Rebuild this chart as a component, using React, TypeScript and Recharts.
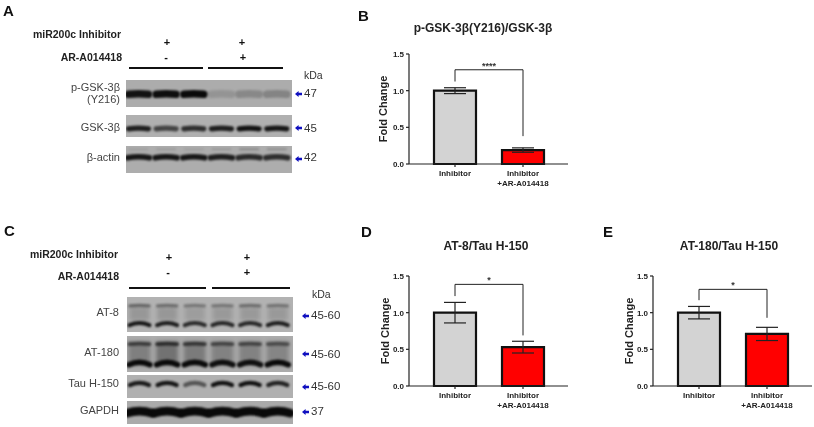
import React from "react";
import { BarChart, Bar, XAxis, YAxis, ErrorBar, Cell, ReferenceLine, ScatterChart, Scatter } from "recharts";

const FONT = '"Liberation Sans", Arial, sans-serif';

// bar panels
const groups = ["Inhibitor", "Inhibitor\n+AR-A014418"];
const yTicks = [0, 0.5, 1.0, 1.5];
const barColors = ["#d3d3d3", "#ff0000"];

const gskMeans = [1.0, 0.19];
const gskErrors = [0.04, 0.03];
const gskBracket = [1.285, 1.125, 0.38]; // top, left foot, right foot

const at8Means = [1.0, 0.53];
const at8Errors = [0.14, 0.08];
const at8Bracket = [1.386, 1.226, 0.69];

const at180Means = [1.0, 0.71];
const at180Errors = [0.085, 0.09];
const at180Bracket = [1.318, 1.17, 0.93];

// blot band strength per lane, 0 to 1
const pGskBand = [0.95, 0.98, 1, 0.14, 0.22, 0.25];
const gskBand = [0.88, 0.65, 0.78, 0.88, 0.95, 0.92];
const actinBand = [0.92, 0.92, 0.92, 0.88, 0.8, 0.78];
const actinFaint = [0.08, 0.1, 0.08, 0.12, 0.22, 0.2];
const at8Upper = [0.42, 0.38, 0.32, 0.32, 0.38, 0.34];
const at8Smear = [0.16, 0.16, 0.12, 0.14, 0.14, 0.14];
const at8Lower = [0.92, 0.88, 0.8, 0.82, 0.82, 0.88];
const at180Upper = [0.6, 0.7, 0.65, 0.55, 0.55, 0.5];
const at180Smear = [0.28, 0.36, 0.3, 0.26, 0.26, 0.24];
const at180Lower = [1, 1, 1, 0.96, 0.96, 1];
const tauBand = [0.9, 0.92, 0.55, 0.95, 0.95, 0.85];
const gapdhBand = [1, 1, 1, 1, 1, 1];

function Txt({ x, y, right, bold, size = 11, color = "#333", center, children }: any) {
  let tx = "translateY(-50%)";
  if (right) tx = "translate(-100%,-50%)";
  if (center) tx = "translate(-50%,-50%)";
  return (
    <div style={{ position: "absolute", left: x, top: y, transform: tx, whiteSpace: "nowrap", fontFamily: FONT, fontSize: size, fontWeight: bold ? 700 : 400, color, lineHeight: 1 }}>
      {children}
    </div>
  );
}

function GroupTick({ x, y, payload }: any) {
  const lines = String(payload.value).split("\n");
  return (
    <text x={x} y={y + 7} textAnchor="middle" fontFamily={FONT} fontSize={8} fontWeight={700} fill="#222">
      {lines.map((l: string, i: number) => (
        <tspan key={i} x={x} dy={i === 0 ? 0 : 9.5}>{l}</tspan>
      ))}
    </text>
  );
}

function FoldPanel({ left, top, means, errors, bracket, stars, labelOffset }: any) {
  const data = groups.map((g, i) => ({ group: g, mean: means[i], err: errors[i] }));
  const axisStroke = { stroke: "#222", strokeWidth: 1.2 };
  return (
    <div style={{ position: "absolute", left, top }}>
      <BarChart width={208} height={154} data={data} margin={{ top: 14, right: 0, bottom: 0, left: 9 }} barSize={42}>
        <XAxis dataKey="group" interval={0} height={30} padding={{ left: 12, right: 11 }} axisLine={axisStroke} tickLine={axisStroke} tickSize={3} tick={<GroupTick />} />
        <YAxis
          width={40}
          domain={[0, 1.5]}
          ticks={yTicks}
          tickFormatter={(v: number) => v.toFixed(1)}
          axisLine={axisStroke}
          tickLine={axisStroke}
          tickSize={3}
          tick={{ fontFamily: FONT, fontSize: 8, fontWeight: 700, fill: "#222" }}
          label={{ value: "Fold Change", angle: -90, position: "insideLeft", offset: labelOffset, style: { fontFamily: FONT, fontSize: 11, fontWeight: 700, fill: "#222", textAnchor: "middle" } }}
        />
        <Bar dataKey="mean" stroke="#111" strokeWidth={2.2} isAnimationActive={false}>
          {data.map((d, i) => <Cell key={d.group} fill={barColors[i]} />)}
          <ErrorBar dataKey="err" width={11} stroke="#222" strokeWidth={1.2} direction="y" isAnimationActive={false} />
        </Bar>
        <ReferenceLine
          segment={[{ x: groups[0], y: bracket[0] }, { x: groups[1], y: bracket[0] }]}
          stroke="#222"
          strokeWidth={1}
          label={{ value: stars, position: "top", offset: 1, style: { fontFamily: FONT, fontSize: 9, fontWeight: 700, fill: "#333" } }}
        />
        <ReferenceLine segment={[{ x: groups[0], y: bracket[0] }, { x: groups[0], y: bracket[1] }]} stroke="#222" strokeWidth={1} />
        <ReferenceLine segment={[{ x: groups[1], y: bracket[0] }, { x: groups[1], y: bracket[2] }]} stroke="#222" strokeWidth={1} />
      </BarChart>
    </div>
  );
}

function BandShape({ cx, cy, payload }: any) {
  const { level, half, arc, thick, soft } = payload;
  return (
    <path
      d={`M${cx - half} ${cy + arc} Q${cx} ${cy - arc} ${cx + half} ${cy + arc}`}
      fill="none"
      stroke="#0a0a0a"
      strokeOpacity={level}
      strokeWidth={thick}
      strokeLinecap={soft ? "butt" : "round"}
      style={{ filter: `blur(${soft ? 2 : 0.8}px)` }}
    />
  );
}

// one membrane strip: lanes are the x values, band height inside the strip is the y value
function Blot({ x, y, w, h, bg, rows }: any) {
  return (
    <div style={{ position: "absolute", left: x, top: y, background: bg, width: w, height: h }}>
      <ScatterChart width={w} height={h} margin={{ top: 0, right: 0, bottom: 0, left: 0 }}>
        <XAxis type="number" dataKey="lane" domain={[-0.45, 5.55]} hide />
        <YAxis type="number" dataKey="pos" domain={[0, 1]} reversed hide width={0} />
        {rows.map((r: any, k: number) => (
          <Scatter
            key={k}
            isAnimationActive={false}
            data={r.levels.map((level: number, lane: number) => ({ lane, level, pos: r.pos, half: r.half ?? 10, arc: r.arc ?? 1, thick: r.thick ?? 4, soft: r.soft }))}
            shape={<BandShape />}
          />
        ))}
      </ScatterChart>
    </div>
  );
}

function Arrow({ x, y }: any) {
  return (
    <svg style={{ position: "absolute", left: x, top: y - 3 }} width={7} height={6}>
      <path d="M0 3 L3.6 0 L3.6 1.8 L7 1.8 L7 4.2 L3.6 4.2 L3.6 6 Z" fill="#1010c0" />
    </svg>
  );
}

function Rule({ x, y, w }: any) {
  return <div style={{ position: "absolute", left: x, top: y - 1, width: w, height: 1.6, background: "#111" }} />;
}

export default function App() {
  return (
    <div style={{ position: "absolute", left: 0, top: 0, width: 814, height: 427, background: "#fff", overflow: "hidden", filter: "blur(0.3px)" }}>
      {/* panel A */}
      <Txt x={3} y={10} bold size={15} color="#111">A</Txt>
      <Txt x={121} y={34} right bold size={10.5} color="#222">miR200c Inhibitor</Txt>
      <Txt x={122} y={57} right bold size={10.5} color="#222">AR-A014418</Txt>
      <Txt x={167} y={42} center bold size={11} color="#111">+</Txt>
      <Txt x={242} y={42} center bold size={11} color="#111">+</Txt>
      <Txt x={166} y={57} center bold size={11} color="#111">-</Txt>
      <Txt x={243} y={57} center bold size={11} color="#111">+</Txt>
      <Rule x={129} y={68} w={74} />
      <Rule x={208} y={68} w={75} />
      <Txt x={304} y={75} size={10.5}>kDa</Txt>
      <Txt x={120} y={87} right size={11} color="#444">p-GSK-3β</Txt>
      <Txt x={120} y={99} right size={11} color="#444">(Y216)</Txt>
      <Txt x={120} y={127} right size={11} color="#444">GSK-3β</Txt>
      <Txt x={120} y={157} right size={11} color="#444">β-actin</Txt>
      <Blot x={126} y={80} w={166} h={27} bg="#acacac" rows={[{ levels: pGskBand, pos: 0.51, thick: 7.5, half: 10, arc: 0.5 }]} />
      <Blot x={126} y={115} w={166} h={22} bg="#b0b0b0" rows={[{ levels: gskBand, pos: 0.6, thick: 5.2, half: 10, arc: 0.6 }]} />
      <Blot x={126} y={146} w={166} h={27} bg="#adadad" rows={[
        { levels: actinFaint, pos: 0.12, thick: 2, half: 9, arc: 0 },
        { levels: actinBand, pos: 0.4, thick: 5.6, half: 11, arc: 1 },
      ]} />
      <Arrow x={295} y={94} />
      <Arrow x={295} y={128} />
      <Arrow x={295} y={159} />
      <Txt x={304} y={94} size={11.5} color="#333">47</Txt>
      <Txt x={304} y={129} size={11.5} color="#333">45</Txt>
      <Txt x={304} y={158} size={11.5} color="#333">42</Txt>

      {/* panel B */}
      <Txt x={358} y={15} bold size={15} color="#111">B</Txt>
      <Txt x={483} y={28} center bold size={12} color="#222">p-GSK-3β(Y216)/GSK-3β</Txt>
      <FoldPanel left={360} top={40} means={gskMeans} errors={gskErrors} bracket={gskBracket} stars="****" labelOffset={14} />

      {/* panel C */}
      <Txt x={4} y={230} bold size={15} color="#111">C</Txt>
      <Txt x={118} y={254} right bold size={10.5} color="#222">miR200c Inhibitor</Txt>
      <Txt x={119} y={276} right bold size={10.5} color="#222">AR-A014418</Txt>
      <Txt x={169} y={257} center bold size={11} color="#111">+</Txt>
      <Txt x={247} y={257} center bold size={11} color="#111">+</Txt>
      <Txt x={168} y={272} center bold size={11} color="#111">-</Txt>
      <Txt x={247} y={272} center bold size={11} color="#111">+</Txt>
      <Rule x={129} y={288} w={77} />
      <Rule x={212} y={288} w={78} />
      <Txt x={312} y={294} size={10.5}>kDa</Txt>
      <Txt x={119} y={312} right size={11} color="#444">AT-8</Txt>
      <Txt x={119} y={352} right size={11} color="#444">AT-180</Txt>
      <Txt x={119} y={383} right size={11} color="#444">Tau H-150</Txt>
      <Txt x={119} y={410} right size={11} color="#444">GAPDH</Txt>
      <Blot x={127} y={297} w={166} h={35} bg="#b2b2b2" rows={[
        { levels: at8Smear, pos: 0.48, thick: 14, half: 10, arc: 0, soft: true },
        { levels: at8Upper, pos: 0.24, thick: 3.4, half: 9.5, arc: 0.5 },
        { levels: at8Lower, pos: 0.74, thick: 4, half: 10, arc: 2.2 },
      ]} />
      <Blot x={127} y={336} w={166} h={36} bg="#acacac" rows={[
        { levels: at180Smear, pos: 0.48, thick: 24, half: 11, arc: 0, soft: true },
        { levels: at180Upper, pos: 0.21, thick: 3.8, half: 10, arc: 0.5 },
        { levels: at180Lower, pos: 0.73, thick: 5.4, half: 10.5, arc: 2.5 },
      ]} />
      <Blot x={127} y={375} w={166} h={23} bg="#b0b0b0" rows={[{ levels: tauBand, pos: 0.34, thick: 4.2, half: 9.5, arc: 2.2 }]} />
      <Blot x={127} y={401} w={166} h={23} bg="#aaaaaa" rows={[{ levels: gapdhBand, pos: 0.44, thick: 8.5, half: 12.5, arc: 2 }]} />
      <Arrow x={302} y={316} />
      <Arrow x={302} y={354} />
      <Arrow x={302} y={387} />
      <Arrow x={302} y={412} />
      <Txt x={311} y={316} size={11.5} color="#333">45-60</Txt>
      <Txt x={311} y={355} size={11.5} color="#333">45-60</Txt>
      <Txt x={311} y={387} size={11.5} color="#333">45-60</Txt>
      <Txt x={311} y={412} size={11.5} color="#333">37</Txt>

      {/* panel D */}
      <Txt x={361} y={231} bold size={15} color="#111">D</Txt>
      <Txt x={486} y={246} center bold size={12} color="#222">AT-8/Tau H-150</Txt>
      <FoldPanel left={360} top={262} means={at8Means} errors={at8Errors} bracket={at8Bracket} stars="*" labelOffset={16} />

      {/* panel E */}
      <Txt x={603} y={231} bold size={15} color="#111">E</Txt>
      <Txt x={729} y={246} center bold size={12} color="#222">AT-180/Tau H-150</Txt>
      <FoldPanel left={604} top={262} means={at180Means} errors={at180Errors} bracket={at180Bracket} stars="*" labelOffset={16} />
    </div>
  );
}
